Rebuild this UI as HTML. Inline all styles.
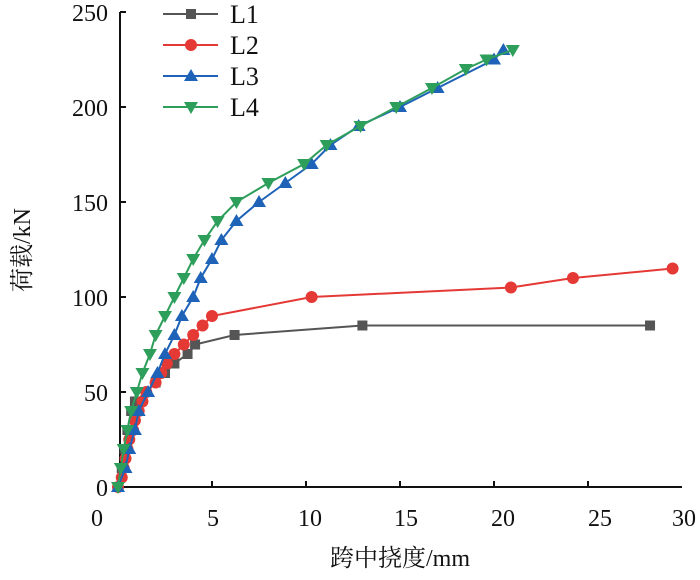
<!DOCTYPE html>
<html><head><meta charset="utf-8"><style>
html,body{margin:0;padding:0;background:#fff;width:700px;height:580px;overflow:hidden}
text{font-family:"Liberation Serif","Noto Serif CJK SC",serif;fill:#111}
</style></head><body>
<svg id="s" width="700" height="580" xmlns="http://www.w3.org/2000/svg">
<g stroke="#111" stroke-width="2" fill="none">
<line x1="120" y1="12" x2="120" y2="487"/>
<line x1="120" y1="487" x2="682" y2="487"/>
</g>
<g font-size="24" text-anchor="end">
<text x="108" y="496">0</text><text x="108" y="401">50</text><text x="108" y="306">100</text>
<text x="108" y="211">150</text><text x="108" y="116">200</text><text x="108" y="21">250</text>
</g>
<g font-size="24" text-anchor="middle">
<text x="97" y="526">0</text><text x="213" y="526">5</text><text x="310" y="526">10</text>
<text x="406" y="526">15</text><text x="503" y="526">20</text><text x="600" y="526">25</text><text x="684" y="526">30</text>
</g>
<text x="400" y="566" font-size="24" text-anchor="middle">跨中挠度/mm</text>
<text transform="translate(30,250) rotate(-90)" font-size="24" text-anchor="middle">荷载/kN</text>
<g id="d"></g>
</svg>
<script>
const X=v=>118+v*18.8, Y=v=>487-v*1.9;
const s=document.getElementById('d');
let h='';
for(let i=1;i<=5;i++){h+=`<line x1="120" x2="126" y1="${Y(i*50)}" y2="${Y(i*50)}" stroke="#111" stroke-width="2"/>`;
h+=`<line x1="${X(i*5)}" x2="${X(i*5)}" y1="487" y2="481" stroke="#111" stroke-width="2"/>`;}
h+=`<line x1="120" x2="126" y1="${Y(250)}" y2="${Y(250)}" stroke="#111" stroke-width="2"/>`;
const S=[
{c:'#555',m:'sq',d:[[0,0],[0.2,10],[0.35,20],[0.5,30],[0.7,40],[0.9,45],[1.5,50],[2.0,55],[2.5,60],[3.0,65],[3.7,70],[4.1,75],[6.2,80],[13,85],[28.3,85]]},
{c:'#e53935',m:'ci',d:[[0,0],[0.2,5],[0.3,10],[0.4,15],[0.5,20],[0.6,25],[0.8,30],[0.9,35],[1.1,40],[1.3,45],[1.5,50],[2.0,55],[2.3,60],[2.6,65],[3.0,70],[3.5,75],[4.0,80],[4.5,85],[5,90],[10.3,100],[20.9,105],[24.2,110],[29.5,115]]},
{c:'#1e63b8',m:'up',d:[[0,0],[0.4,10],[0.6,20],[0.9,30],[1.1,40],[1.6,50],[2.1,60],[2.5,70],[3.0,80],[3.4,90],[4,100],[4.4,110],[5,120],[5.5,130],[6.3,140],[7.5,150],[8.9,160],[10.3,170],[11.3,180],[12.8,190],[15,200],[17,210],[20,225],[20.5,230]]},
{c:'#2e9e5b',m:'dn',d:[[0,0],[0.15,10],[0.3,20],[0.5,30],[0.7,40],[1.0,50],[1.3,60],[1.7,70],[2.0,80],[2.5,90],[3.0,100],[3.5,110],[4.0,120],[4.6,130],[5.3,140],[6.3,150],[8,160],[9.9,170],[11.1,180],[12.9,190],[14.8,200],[16.7,210],[18.5,220],[19.6,225],[21,230]]}];
function mk(m,x,y,c){
 if(m=='sq')return `<rect x="${x-5}" y="${y-5}" width="10" height="10" fill="${c}"/>`;
 if(m=='ci')return `<circle cx="${x}" cy="${y}" r="6" fill="${c}"/>`;
 if(m=='up')return `<polygon points="${x},${y-7} ${x-7},${y+5} ${x+7},${y+5}" fill="${c}"/>`;
 return `<polygon points="${x},${y+7} ${x-7},${y-5} ${x+7},${y-5}" fill="${c}"/>`;}
S.forEach((o,i)=>{
 h+=`<polyline fill="none" stroke="${o.c}" stroke-width="2" points="${o.d.map(p=>X(p[0])+','+Y(p[1])).join(' ')}"/>`;
 o.d.forEach(p=>h+=mk(o.m,X(p[0]),Y(p[1]),o.c));
 const ly=14+i*31;
 h+=`<line x1="163" x2="218" y1="${ly}" y2="${ly}" stroke="${o.c}" stroke-width="2"/>`+mk(o.m,191,ly,o.c);
 h+=`<text x="230" y="${ly+9}" font-size="26">L${i+1}</text>`;
});
s.innerHTML=h;
</script>
</body></html>
